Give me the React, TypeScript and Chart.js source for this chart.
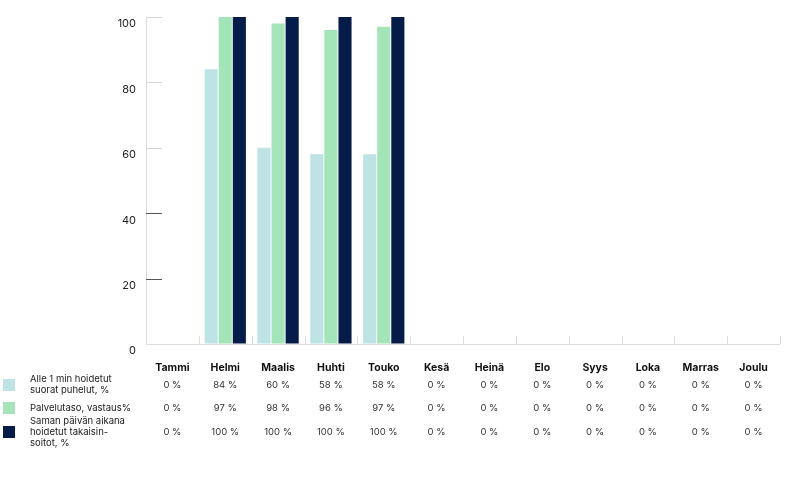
import React, { useEffect, useRef } from "react";
import { Chart, registerables } from "chart.js";

Chart.register(...registerables);

const months = ["Tammi", "Helmi", "Maalis", "Huhti", "Touko", "Kesä", "Heinä", "Elo", "Syys", "Loka", "Marras", "Joulu"];

const seriesLabels = [
  ["Alle 1 min hoidetut", "suorat puhelut, %"],
  ["Palvelutaso, vastaus%"],
  ["Saman päivän aikana", "hoidetut takaisin-", "soitot, %"],
];

const seriesColors = ["#bde3e4", "#a3e4b9", "#051c48"];

// bar heights as drawn
const under1min = [0, 84, 60, 58, 58, 0, 0, 0, 0, 0, 0, 0];
const serviceLevel = [0, 100, 98, 96, 97, 0, 0, 0, 0, 0, 0, 0];
const callbacksSameDay = [0, 100, 100, 100, 100, 0, 0, 0, 0, 0, 0, 0];

// table texts
const tableUnder1min = ["0 %", "84 %", "60 %", "58 %", "58 %", "0 %", "0 %", "0 %", "0 %", "0 %", "0 %", "0 %"];
const tableServiceLevel = ["0 %", "97 %", "98 %", "96 %", "97 %", "0 %", "0 %", "0 %", "0 %", "0 %", "0 %", "0 %"];
const tableCallbacks = ["0 %", "100 %", "100 %", "100 %", "100 %", "0 %", "0 %", "0 %", "0 %", "0 %", "0 %", "0 %"];

const yTicks = [0, 20, 40, 60, 80, 100];

const FONT = "Inter, 'Open Sans', sans-serif";

const tablePlugin = {
  id: "tablePlugin",
  afterDraw(chart: any) {
    const ctx = chart.ctx as CanvasRenderingContext2D;
    const area = chart.chartArea;
    const x = chart.scales.x;
    const y = chart.scales.y;
    const n = months.length;
    const w = (area.right - area.left) / n;
    ctx.save();

    // x axis line
    ctx.strokeStyle = "#dcdcdc";
    ctx.lineWidth = 1;
    ctx.beginPath();
    ctx.moveTo(area.left, Math.round(area.bottom) + 0.5);
    ctx.lineTo(area.right, Math.round(area.bottom) + 0.5);
    ctx.stroke();

    // category boundary ticks
    for (let i = 1; i <= n; i++) {
      const xp = Math.round(area.left + i * w) + 0.5;
      ctx.beginPath();
      ctx.moveTo(xp, area.bottom);
      ctx.lineTo(xp, area.bottom - 8);
      ctx.stroke();
    }

    // y tick marks (inside)
    yTicks.forEach((v) => {
      if (v === 0) return;
      const yp = Math.round(y.getPixelForValue(v)) + 0.5;
      ctx.strokeStyle = v >= 60 ? "#d6d6d6" : "#555555";
      ctx.beginPath();
      ctx.moveTo(area.left, yp);
      ctx.lineTo(area.left + 16, yp);
      ctx.stroke();
    });

    // month labels
    ctx.textAlign = "center";
    ctx.textBaseline = "middle";
    ctx.fillStyle = "#111";
    ctx.font = `bold 10.5px ${FONT}`;
    months.forEach((m, i) => {
      ctx.fillText(m, x.getPixelForValue(i), 368);
    });

    // table values
    const rows = [tableUnder1min, tableServiceLevel, tableCallbacks];
    const rowY = [385, 408, 432];
    ctx.font = `9.5px ${FONT}`;
    ctx.fillStyle = "#333";
    rows.forEach((row, r) => {
      row.forEach((t, i) => {
        ctx.fillText(t, x.getPixelForValue(i), rowY[r]);
      });
    });

    // legend
    ctx.textAlign = "left";
    ctx.font = `9.5px ${FONT}`;
    seriesLabels.forEach((lines, r) => {
      ctx.fillStyle = seriesColors[r];
      ctx.fillRect(3, rowY[r] - 6, 12, 12);
      ctx.fillStyle = "#222";
      const lh = 11;
      const start = rowY[r] - ((lines.length - 1) * lh) / 2;
      lines.forEach((ln, k) => {
        ctx.fillText(ln, 30, start + k * lh);
      });
    });

    ctx.restore();
  },
};

export default function App() {
  const ref = useRef<HTMLCanvasElement>(null);

  useEffect(() => {
    if (!ref.current) return;
    const chart = new Chart(ref.current, {
      type: "bar",
      data: {
        labels: months,
        datasets: [
          { label: seriesLabels[0].join(" "), data: under1min, backgroundColor: seriesColors[0] },
          { label: seriesLabels[1].join(" "), data: serviceLevel, backgroundColor: seriesColors[1] },
          { label: seriesLabels[2].join(" "), data: callbacksSameDay, backgroundColor: seriesColors[2] },
        ],
      },
      options: {
        responsive: false,
        animation: false,
        datasets: {
          bar: { categoryPercentage: 0.8, barPercentage: 0.93 },
        },
        layout: { padding: { top: 17, right: 15, bottom: 133, left: 0 } },
        plugins: {
          legend: { display: false },
          tooltip: { enabled: false },
        },
        scales: {
          x: { display: false },
          y: {
            min: 0,
            max: 100,
            afterFit: (s: any) => {
              s.width = 146;
            },
            afterBuildTicks: (s: any) => {
              s.ticks = yTicks.map((v) => ({ value: v }));
            },
            border: { display: true, color: "#dcdcdc", width: 1 },
            grid: { drawOnChartArea: false, drawTicks: false },
            ticks: {
              padding: 10,
              labelOffset: 7,
              color: "#222",
              font: { family: FONT, size: 11 },
            },
          },
        },
      },
      plugins: [tablePlugin],
    });
    return () => chart.destroy();
  }, []);

  return (
    <div style={{ position: "fixed", left: 0, top: 0, width: 795, height: 477, background: "#fff" }}>
      <canvas ref={ref} width={795} height={477} style={{ display: "block", width: 795, height: 477 }} />
    </div>
  );
}
